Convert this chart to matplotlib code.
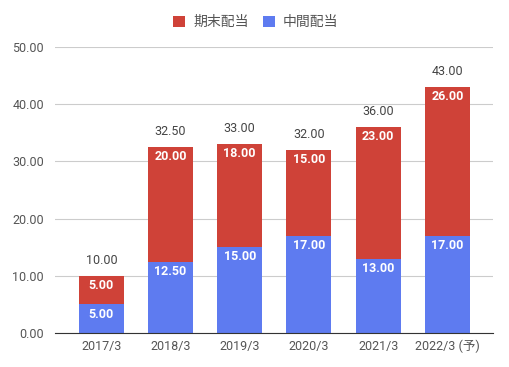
import matplotlib
matplotlib.use("Agg")
import matplotlib.pyplot as plt
import numpy as np

plt.rcParams['font.family'] = ['Roboto', 'Noto Sans CJK JP', 'DejaVu Sans']

years = ['2017/3', '2018/3', '2019/3', '2020/3', '2021/3', '2022/3 (予)']
interim = [5.00, 12.50, 15.00, 17.00, 13.00, 17.00]   # 中間配当
final = [5.00, 20.00, 18.00, 15.00, 23.00, 26.00]      # 期末配当
totals = [10.00, 32.50, 33.00, 32.00, 36.00, 43.00]

red = '#cf4238'
blue = '#5e7bf0'
grey = '#555555'

fig = plt.figure(figsize=(5.09, 3.67), dpi=100)
ax = fig.add_axes([0.108, 0.0926, 0.8606, 0.7794])

x = np.arange(len(years))
w = 0.65
b1 = ax.bar(x, interim, w, color=blue, label='中間配当', zorder=2)
b2 = ax.bar(x, final, w, bottom=interim, color=red, label='期末配当', zorder=2)

for i in range(len(years)):
    ax.text(x[i], interim[i] - 1.7, f'{interim[i]:.2f}', ha='center', va='center',
            color='white', fontsize=9, fontweight='bold', zorder=3)
    ax.text(x[i], totals[i] - 1.7, f'{final[i]:.2f}', ha='center', va='center',
            color='white', fontsize=9, fontweight='bold', zorder=3)
    ax.text(x[i], totals[i] + 2.7, f'{totals[i]:.2f}', ha='center', va='center',
            color='#444444', fontsize=9, zorder=3)

ax.set_ylim(0, 50)
ax.set_xlim(-0.67, 5.66)
ax.set_yticks(np.arange(0, 51, 10))
ax.set_yticklabels([f'{v:.2f}' for v in np.arange(0, 51, 10)])
ax.set_xticks(x)
ax.set_xticklabels(years)
ax.tick_params(axis='both', length=0, colors=grey, labelsize=9)
ax.tick_params(axis='y', pad=8)
ax.tick_params(axis='x', pad=5)
ax.grid(axis='y', color='#cccccc', linewidth=0.8, zorder=0)
for s in ['top', 'right', 'left']:
    ax.spines[s].set_visible(False)
ax.spines['bottom'].set_color('#333333')
ax.spines['bottom'].set_zorder(4)

handles = [b2, b1]
fig.legend(handles, ['期末配当', '中間配当'], loc='center', bbox_to_anchor=(0.503, 0.94),
           ncol=2, frameon=False, fontsize=10, handlelength=0.85, handleheight=0.85,
           columnspacing=1.0, handletextpad=0.6, labelcolor=grey)

fig.savefig('out.png', dpi=100)
